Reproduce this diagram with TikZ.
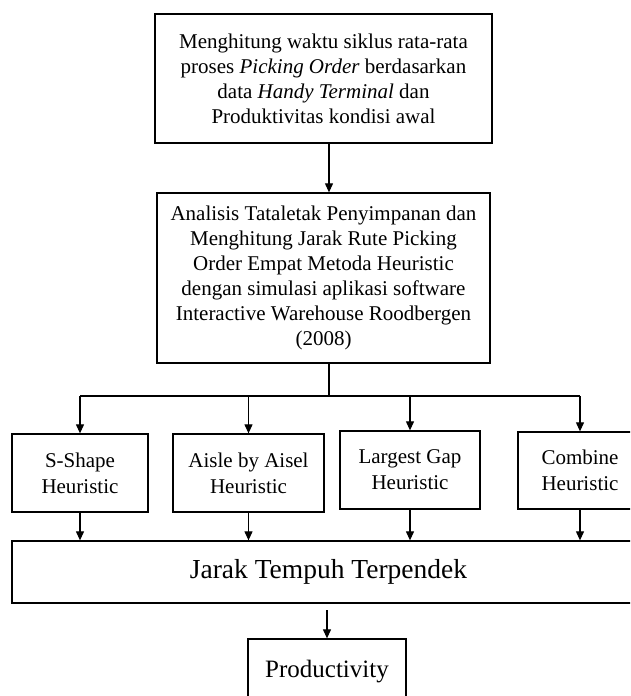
\documentclass[tikz,border=0pt]{standalone}
\usepackage{fontspec}
\setmainfont{Liberation Serif}
\usetikzlibrary{arrows.meta}
\begin{document}
\begin{tikzpicture}[x=1pt,y=-1pt,
  box/.style={draw, line width=1.3pt, align=center, inner sep=0pt, font=\fontsize{21}{25}\selectfont},
  conn/.style={line width=1.3pt},
  arr/.style={line width=1.1pt, -{Triangle[length=9pt,width=8pt]}}]
\useasboundingbox (0,0) rectangle (630,696);
\clip (0,0) rectangle (630,696);
\fill[white] (0,0) rectangle (630,696);
\node[box, minimum width=337pt, minimum height=129pt] (top) at (323.5,78.5)
  {Menghitung waktu siklus rata-rata\\proses \textit{Picking Order} berdasarkan\\data \textit{Handy Terminal} dan\\Produktivitas kondisi awal};
\node[box, minimum width=333pt, minimum height=170pt] (mid) at (323.5,278)
  {Analisis Tataletak Penyimpanan dan\\Menghitung Jarak Rute Picking\\Order Empat Metoda Heuristic\\dengan simulasi aplikasi software\\Interactive Warehouse Roodbergen\\(2008)};
\node[box, font=\fontsize{21}{26}\selectfont, minimum width=136pt, minimum height=78pt] (ss) at (80,473) {S-Shape\\Heuristic};
\node[box, font=\fontsize{21}{26}\selectfont, minimum width=151pt, minimum height=78pt] (ab) at (248.5,473) {Aisle by Aisel\\Heuristic};
\node[box, font=\fontsize{21}{26}\selectfont, minimum width=140pt, minimum height=78pt] (lg) at (410,470) {Largest Gap\\Heuristic};
\node[box, font=\fontsize{21}{26}\selectfont, minimum width=124pt, minimum height=77pt] (cb) at (580,470.5) {Combine\\Heuristic};
\node[box, font=\fontsize{27.5}{30}\selectfont, minimum width=633pt, minimum height=62pt] (jt) at (328.5,572) {Jarak Tempuh Terpendek};
\node[box, font=\fontsize{25}{28}\selectfont, minimum width=158pt, minimum height=66pt] (pr) at (327,672) {Productivity};
\coordinate (br) at (329,396);
\coordinate (bl) at (80,396);
\coordinate (brr) at (580,396);
\coordinate (pa) at (327,610);
\draw[arr] (br |- top.south) -- (br |- mid.north);
\draw[conn] (br |- mid.south) -- (br);
\draw[conn] (bl) -- (brr);
\draw[arr] (bl) -- (ss.north);
\draw[arr] (ab.north |- br) -- (ab.north);
\draw[arr] (lg.north |- br) -- (lg.north);
\draw[arr] (brr) -- (cb.north);
\draw[arr] (ss.south) -- (ss.south |- jt.north);
\draw[arr] (ab.south) -- (ab.south |- jt.north);
\draw[arr] (lg.south) -- (lg.south |- jt.north);
\draw[arr] (cb.south) -- (cb.south |- jt.north);
\draw[arr] (pa) -- (pr.north);
\end{tikzpicture}
\end{document}
